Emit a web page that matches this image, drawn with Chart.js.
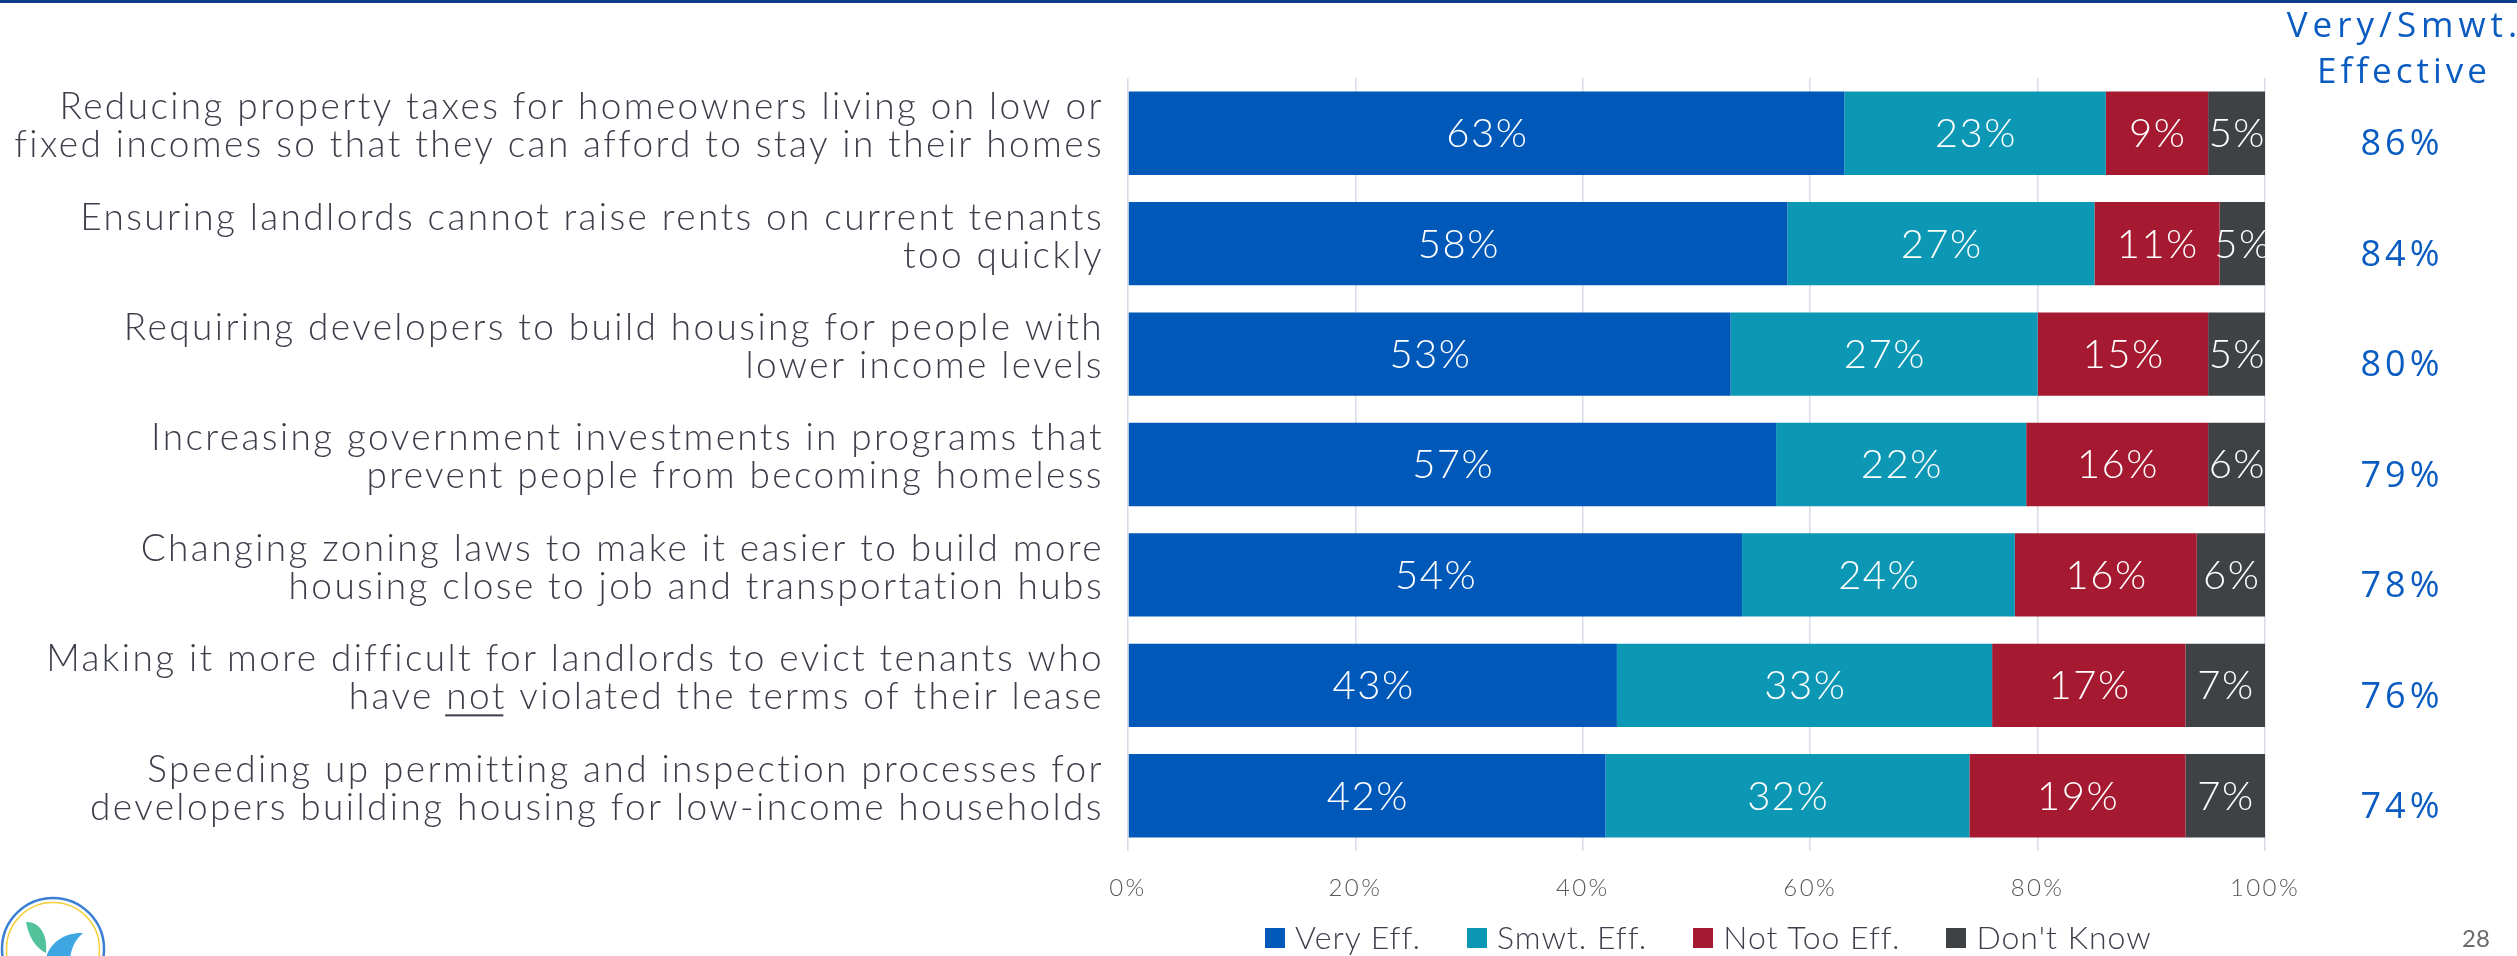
<!DOCTYPE html>
<html>
<head>
<meta charset="utf-8">
<script src="https://cdn.jsdelivr.net/npm/chart.js@4.4.1/dist/chart.umd.min.js"></script>
<style>
  html, body { margin: 0; padding: 0; background: #fff; overflow: hidden; }
  #wrap { position: relative; width: 2517px; height: 956px; }
  #logo { position: absolute; left: 0; top: 890px; }
  #legend { position: absolute; left: 1265px; top: 920px; display: flex; align-items: center;
            font: 300 32px Lato; color: #3c3f4a; line-height: 34px; letter-spacing: 1px; }
  #legend .item { display: flex; align-items: center; margin-right: 46px; }
  #legend .box { width: 20px; height: 20px; margin-right: 10px; margin-top: 2px; }
</style>
</head>
<body>
<div id="wrap">
  <canvas id="chart" width="2517" height="956"></canvas>
  <div id="legend"></div>
  <svg id="logo" width="110" height="66" viewBox="0 890 110 66">
    <circle cx="53" cy="949" r="51" fill="#fff" stroke="#3b7fd4" stroke-width="2.5"/>
    <circle cx="53" cy="949" r="46.5" fill="none" stroke="#f3cf3a" stroke-width="1.5"/>
    <path d="M26 922 C38 921 48 933 46 953 C36 948 29 938 26 922 Z" fill="#52c29b"/>
    <path d="M83 933 C66 932 50 942 46 958 L70 958 C72 946 76 939 83 933 Z" fill="#3ea6e2"/>
  </svg>
</div>
<script>
// --- data ---
const categories = [
  ['Reducing property taxes for homeowners living on low or', 'fixed incomes so that they can afford to stay in their homes'],
  ['Ensuring landlords cannot raise rents on current tenants', 'too quickly'],
  ['Requiring developers to build housing for people with', 'lower income levels'],
  ['Increasing government investments in programs that', 'prevent people from becoming homeless'],
  ['Changing zoning laws to make it easier to build more', 'housing close to job and transportation hubs'],
  ['Making it more difficult for landlords to evict tenants who', 'have not violated the terms of their lease'],
  ['Speeding up permitting and inspection processes for', 'developers building housing for low-income households']
];
const seriesNames = ['Very Eff.', 'Smwt. Eff.', 'Not Too Eff.', "Don't Know"];
const veryEff   = [63, 58, 53, 57, 54, 43, 42];
const smwtEff   = [23, 27, 27, 22, 24, 33, 32];
const notTooEff = [9, 11, 15, 16, 16, 17, 19];
const dontKnow  = [5, 5, 5, 6, 6, 7, 7];
const netEffective = [86, 84, 80, 79, 78, 76, 74];
const netHeader = ['Very/Smwt.', 'Effective'];
const pageNumber = '28';

const colors = ['#0059b8', '#0c97b4', '#a51a31', '#3e4245'];
const labelFont = 'Lato';
const labelSpacing = '2.4px';

// draw text with letter spacing, centred on x
function spacedText(ctx, text, x, y, spacing) {
    let total = 0;
    for (let ch of text) total += ctx.measureText(ch).width + spacing;
    total -= spacing;
    let cx = x - total / 2;
    ctx.textAlign = 'left';
    for (let ch of text) {
        ctx.fillText(ch, cx, y);
        cx += ctx.measureText(ch).width + spacing;
    }
}

const extras = {
    id: 'extras',
    beforeDraw(chart) {
        // axis labels are drawn before datasets: widen them a little
        chart.ctx.letterSpacing = labelSpacing;
    },
    beforeDatasetsDraw(chart) {
        chart.ctx.letterSpacing = '0px';
    },
    afterDatasetsDraw(chart) {
        const ctx = chart.ctx;
        const area = chart.chartArea;
        ctx.save();
        ctx.font = `300 40px ${labelFont}`;
        ctx.fillStyle = '#fff';
        ctx.textBaseline = 'middle';
        chart.data.datasets.forEach((ds, di) => {
            chart.getDatasetMeta(di).data.forEach((bar, i) => {
                const p = bar.getProps(['x', 'y', 'base'], true);
                const right = Math.min(p.x, area.right);
                spacedText(ctx, ds.data[i] + '%', (p.base + right) / 2, p.y + 1, 1.5);
            });
        });
        ctx.restore();
    },
    afterDraw(chart) {
        const ctx = chart.ctx;
        const yScale = chart.scales.y;
        ctx.save();
        ctx.letterSpacing = '0px';

        // top rule
        ctx.fillStyle = '#0b3d8a';
        ctx.fillRect(0, 0, chart.width, 3);

        // net effective column
        ctx.fillStyle = '#0b5cc1';
        ctx.textBaseline = 'middle';
        ctx.font = '400 35px "Open Sans"';
        spacedText(ctx, netHeader[0], 2402, 27, 5);
        spacedText(ctx, netHeader[1], 2402, 73, 4);
        ctx.font = '400 36px "Open Sans"';
        netEffective.forEach((v, i) => {
            spacedText(ctx, v + '%', 2400, yScale.getPixelForTick(i) + 12, 4);
        });

        // underline "not" in the 6th label
        ctx.font = `300 37px ${labelFont}`;
        ctx.letterSpacing = labelSpacing;
        const line = categories[5][1];
        const rightX = yScale.right - 25;
        const startX = rightX - ctx.measureText(line).width + ctx.measureText('have ').width;
        const w = ctx.measureText('not').width - 2.4;
        const uy = yScale.getPixelForTick(5) - 7 + 19 + 17;
        ctx.fillStyle = '#3c3f4a';
        ctx.fillRect(startX, uy, w, 2);
        ctx.letterSpacing = '0px';

        // page number
        ctx.fillStyle = '#6b6b6b';
        ctx.font = `400 24px ${labelFont}`;
        ctx.textAlign = 'center';
        ctx.fillText(pageNumber, 2476, 939);
        ctx.restore();
    }
};

const seriesData = [veryEff, smwtEff, notTooEff, dontKnow];

// html legend
const legendEl = document.getElementById('legend');
seriesNames.forEach((name, i) => {
    const item = document.createElement('div');
    item.className = 'item';
    item.innerHTML = `<span class="box" style="background:${colors[i]}"></span><span>${name}</span>`;
    legendEl.appendChild(item);
});

new Chart(document.getElementById('chart'), {
    type: 'bar',
    data: {
        labels: categories,
        datasets: seriesNames.map((name, i) => ({
            label: name,
            data: seriesData[i],
            backgroundColor: colors[i],
            borderWidth: 0,
            barPercentage: 0.755,
            categoryPercentage: 1
        }))
    },
    options: {
        indexAxis: 'y',
        responsive: false,
        animation: false,
        layout: { padding: { top: 78, right: 252, bottom: 53, left: 0 } },
        scales: {
            x: {
                stacked: true,
                min: 0,
                max: 100,
                ticks: {
                    stepSize: 20,
                    callback: v => v + '%',
                    color: '#595959',
                    font: { family: labelFont, size: 24, weight: '300' },
                    padding: 23
                },
                grid: { color: '#d9dbe6', lineWidth: 1.5, drawTicks: false },
                border: { display: false },
                afterFit: s => { s.height = 52; }
            },
            y: {
                stacked: true,
                grid: { display: false, drawTicks: false },
                border: { display: false },
                ticks: {
                    color: '#3c3f4a',
                    font: { family: labelFont, size: 37, weight: '300', lineHeight: 38 / 37 },
                    padding: 24,
                    labelOffset: -7,
                    autoSkip: false
                },
                afterFit: s => { s.width = 1128; }
            }
        },
        plugins: {
            legend: { display: false },
            tooltip: { enabled: false }
        }
    },
    plugins: [extras]
});
</script>
</body>
</html>
